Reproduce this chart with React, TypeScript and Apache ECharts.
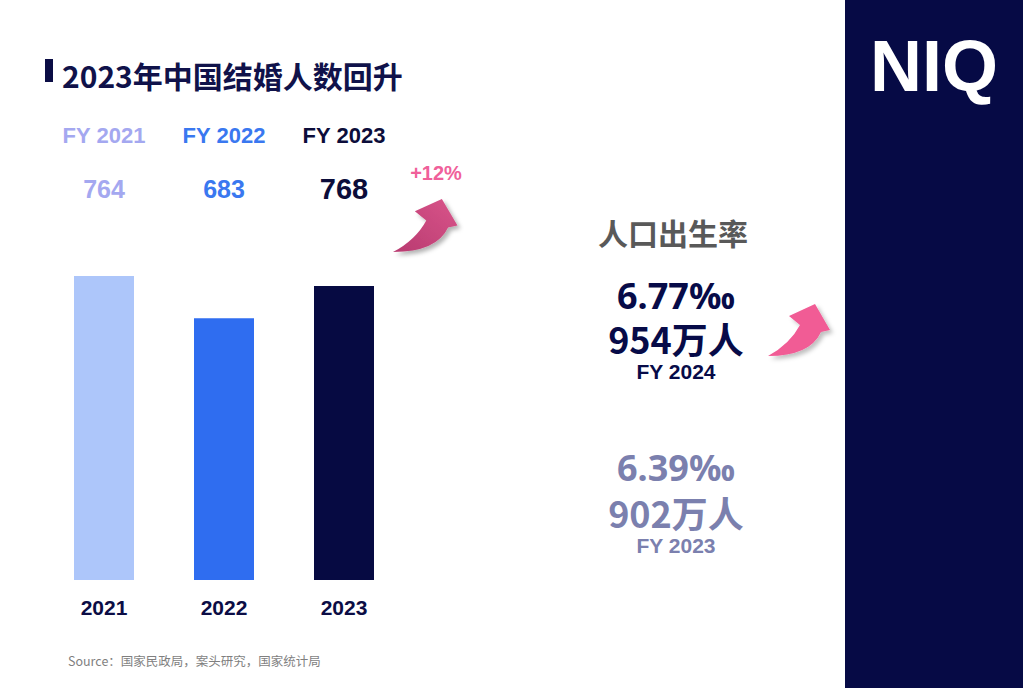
import React, { useEffect, useRef } from "react";
import * as echarts from "echarts";

// Data
const years = ["2021", "2022", "2023"];
const marriages = [764, 683, 768]; // 结婚人数 (万对), as labelled
const barHeightsAsDrawn = [764, 658, 739]; // bar heights as drawn in the picture, same units
const barColors = ["#adc6fa", "#2f6df0", "#060a42"];
const fyColors = ["#a4a8f0", "#3a78f0", "#0c0d3a"];
const valueColors = ["#a4a8f0", "#3a78f0", "#0c0d3a"];
const birthRates = ["6.77‰", "6.39‰"];
const births = ["954万人", "902万人"];
const birthYears = ["FY 2024", "FY 2023"];

const ARROW_D = "M0 52 Q22 40 32 21 L21 12 L47 0 L62 26 L53 28 Q42 52 0 52 Z";
let registered = false;
function registerArrow() {
  if (registered) return;
  registered = true;
  echarts.graphic.registerShape("niqArrow", (echarts.graphic as any).extendPath(ARROW_D, {}));
}

const LATIN = "'Liberation Sans', Arial, sans-serif";
const CJK = "'Noto Sans CJK SC', 'Noto Sans', sans-serif";

export default function App() {
  const ref = useRef<HTMLDivElement>(null);
  useEffect(() => {
    document.body.style.margin = "0";
    registerArrow();
    const chart = echarts.init(ref.current!, null, { renderer: "svg" });
    const rich: any = {};
    years.forEach((_, i) => {
      rich["f" + i] = { color: fyColors[i], fontSize: 22, fontWeight: "bold", fontFamily: LATIN, lineHeight: 54 };
      rich["v" + i] = {
        color: valueColors[i],
        fontSize: i === 2 ? 29 : 25,
        fontWeight: "bold",
        fontFamily: LATIN,
        lineHeight: 54,
      };
    });
    const navy = "#070b48";
    const lav = "#7b80ae";
    chart.setOption({
      animation: false,
      backgroundColor: "#ffffff",
      grid: { left: 44, width: 360, top: 222, bottom: 108 },
      xAxis: [
        {
          type: "category",
          data: years,
          axisLine: { show: false },
          axisTick: { show: false },
          axisLabel: {
            margin: 17,
            color: "#0c0d45",
            fontSize: 21,
            fontWeight: "bold",
            fontFamily: LATIN,
          },
        },
        {
          type: "category",
          position: "top",
          data: years,
          axisLine: { show: false },
          axisTick: { show: false },
          axisLabel: {
            margin: 6,
            formatter: (v: string, i: number) => `{f${i}|FY ${v}}\n{v${i}|${marriages[i]}}`,
            rich,
          },
        },
      ],
      yAxis: { type: "value", min: 0, max: 900, show: false, splitLine: { show: false } },
      series: [
        {
          type: "bar",
          barWidth: 60,
          data: barHeightsAsDrawn.map((v, i) => ({ value: v, itemStyle: { color: barColors[i] } })),
        },
      ],
      graphic: [
        { type: "rect", shape: { x: 845, y: 0, width: 178, height: 688 }, style: { fill: "#060a45" } },
        {
          type: "text",
          style: {
            text: "NIQ",
            x: 934,
            y: 66,
            textAlign: "center",
            textVerticalAlign: "middle",
            fontSize: 72,
            fontWeight: "bold",
            fontFamily: LATIN,
            fill: "#ffffff",
          },
        },
        { type: "rect", shape: { x: 45, y: 59, width: 8, height: 23 }, style: { fill: "#0b0d45" } },
        {
          type: "text",
          style: {
            text: "2023年中国结婚人数回升",
            x: 62,
            y: 75,
            textVerticalAlign: "middle",
            fontSize: 30,
            fontWeight: "bold",
            fontFamily: CJK,
            fill: "#10124a",
          },
        },
        {
          type: "text",
          style: {
            text: "+12%",
            x: 436,
            y: 173,
            textAlign: "center",
            textVerticalAlign: "middle",
            fontSize: 20,
            fontWeight: "bold",
            fontFamily: LATIN,
            fill: "#f0609a",
          },
        },
        {
          type: "niqArrow",
          x: 393,
          y: 199,
          scaleX: 1.04,
          scaleY: 1.02,
          style: {
            fill: new echarts.graphic.LinearGradient(0, 1, 1, 0, [
              { offset: 0, color: "#b83a70" },
              { offset: 1, color: "#d9558a" },
            ]),
            shadowBlur: 4,
            shadowOffsetX: 3,
            shadowOffsetY: 3,
            shadowColor: "rgba(0,0,0,0.3)",
          },
        },
        {
          type: "niqArrow",
          x: 768,
          y: 304,
          style: {
            fill: "#f15b95",
            shadowBlur: 4,
            shadowOffsetX: 3,
            shadowOffsetY: 3,
            shadowColor: "rgba(0,0,0,0.25)",
          },
        },
        {
          type: "text",
          style: {
            text: "人口出生率",
            x: 673,
            y: 232,
            textAlign: "center",
            textVerticalAlign: "middle",
            fontSize: 30,
            fontWeight: "bold",
            fontFamily: CJK,
            fill: "#595959",
          },
        },
        ...[0, 1].flatMap((k) => {
          const c = k === 0 ? navy : lav;
          const base = k === 0 ? [295, 338, 371] : [467, 512, 545];
          return [
            {
              type: "text",
              style: {
                text: birthRates[k],
                x: 676,
                y: base[0],
                textAlign: "center",
                textVerticalAlign: "middle",
                fontSize: 36,
                lineHeight: 36,
                fontWeight: "bold",
                fontFamily: "'Noto Sans', sans-serif",
                fill: c,
              },
            },
            {
              type: "text",
              style: {
                text: births[k],
                x: 676,
                y: base[1],
                textAlign: "center",
                textVerticalAlign: "middle",
                fontSize: 36,
                lineHeight: 36,
                fontWeight: "bold",
                fontFamily: CJK,
                fill: c,
              },
            },
            {
              type: "text",
              style: {
                text: birthYears[k],
                x: 676,
                y: base[2],
                textAlign: "center",
                textVerticalAlign: "middle",
                fontSize: 21,
                lineHeight: 21,
                fontWeight: "bold",
                fontFamily: LATIN,
                fill: c,
              },
            },
          ];
        }),
        {
          type: "text",
          style: {
            text: "Source：国家民政局，案头研究，国家统计局",
            x: 68,
            y: 660,
            textVerticalAlign: "middle",
            fontSize: 12.5,
            fontFamily: CJK,
            fill: "#7f7f7f",
          },
        },
      ],
    });
    return () => chart.dispose();
  }, []);
  return <div ref={ref} style={{ width: 1023, height: 688 }} />;
}
